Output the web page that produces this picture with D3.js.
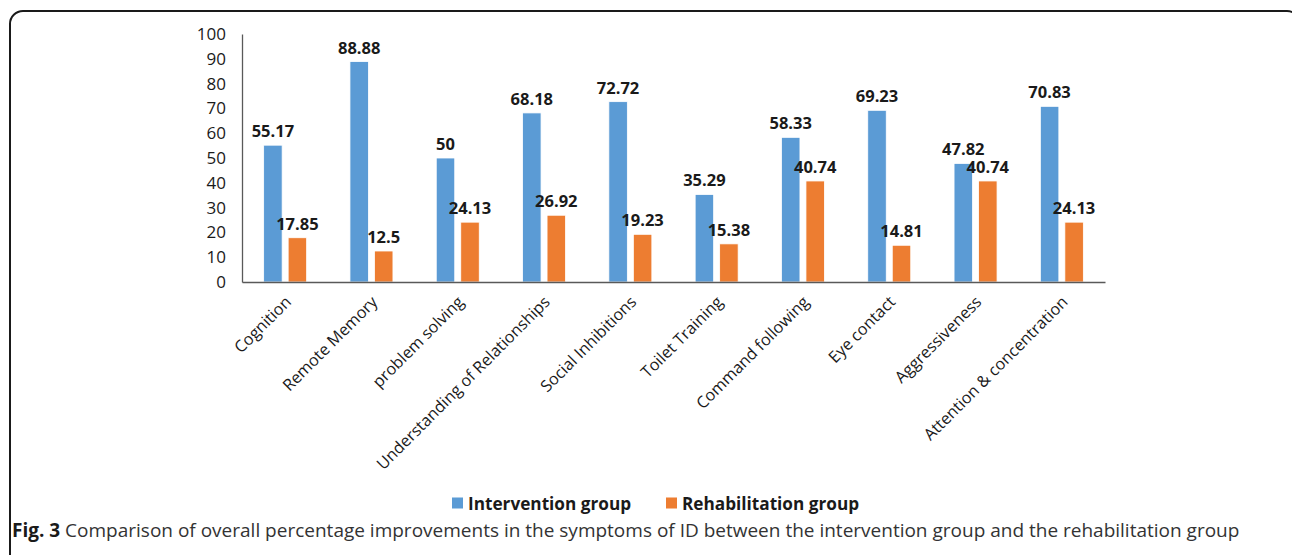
<!DOCTYPE html>
<html>
<head>
<meta charset="utf-8">
<script src="https://cdn.jsdelivr.net/npm/d3@7"></script>
<style>
  html, body { margin: 0; padding: 0; background: #fff; }
  svg { display: block; }
</style>
</head>
<body>
<svg id="chart" width="1292" height="555"></svg>
<script>
// Symptom categories and percentage improvement per group
const categories = [
  "Cognition", "Remote Memory", "problem solving", "Understanding of Relationships",
  "Social Inhibitions", "Toilet Training", "Command following", "Eye contact",
  "Aggressiveness", "Attention & concentration"
];
const interventionValues = [55.17, 88.88, 50, 68.18, 72.72, 35.29, 58.33, 69.23, 47.82, 70.83];
const rehabilitationValues = [17.85, 12.5, 24.13, 26.92, 19.23, 15.38, 40.74, 14.81, 40.74, 24.13];
const seriesNames = ["Intervention group", "Rehabilitation group"];
const yTicks = [0, 10, 20, 30, 40, 50, 60, 70, 80, 90, 100];
const captionLead = "Fig. 3";
const captionText = " Comparison of overall percentage improvements in the symptoms of ID between the intervention group and the rehabilitation group";

const colors = ["#5B9BD5", "#ED7D31"];
const svg = d3.select("#chart");

// Outer rounded frame
svg.append("rect")
  .attr("x", 10).attr("y", 11)
  .attr("width", 1290).attr("height", 600)
  .attr("rx", 13).attr("ry", 13)
  .attr("fill", "none").attr("stroke", "#1a1a1a").attr("stroke-width", 2);

const plot = { left: 242, right: 1105, top: 34, bottom: 282 };

const x = d3.scaleBand().domain(categories).range([plot.left, plot.right]).paddingInner(0).paddingOuter(0);
const y = d3.scaleLinear().domain([0, 100]).range([plot.bottom, plot.top]);

const barW = 18.5, barGap = 6;
const offsets = [-(barW + barGap) / 2, (barW + barGap) / 2];
const series = [interventionValues, rehabilitationValues];

// Y axis
const yAxis = svg.append("g").attr("transform", `translate(${plot.left},0)`)
  .call(d3.axisLeft(y).tickValues(yTicks).tickSize(0).tickPadding(16));
yAxis.select(".domain").attr("stroke", "#595959").attr("stroke-width", 1.3);
yAxis.selectAll("text")
  .attr("font-family", "Open Sans").attr("font-size", 17).attr("fill", "#1a1a1a");

// Bars and value labels
series.forEach((vals, si) => {
  const g = svg.append("g");
  g.selectAll("rect").data(vals).join("rect")
    .attr("x", (d, i) => x(categories[i]) + x.bandwidth() / 2 + offsets[si] - barW / 2)
    .attr("y", d => y(d))
    .attr("width", barW)
    .attr("height", d => y(0) - y(d))
    .attr("fill", colors[si])
    .attr("stroke", "#fff").attr("stroke-width", 0.8);
  g.selectAll("text").data(vals).join("text")
    .attr("x", (d, i) => x(categories[i]) + x.bandwidth() / 2 + offsets[si])
    .attr("y", d => y(d) - 8)
    .attr("text-anchor", "middle")
    .attr("font-family", "Open Sans").attr("font-weight", "bold").attr("font-size", 16.5)
    .attr("fill", "#1a1a1a")
    .text(d => d);
});

// X axis with rotated category labels
const xAxis = svg.append("g").attr("transform", `translate(0,${plot.bottom})`)
  .call(d3.axisBottom(x).tickSize(0).tickPadding(0));
xAxis.select(".domain").attr("stroke", "#595959").attr("stroke-width", 1.3);
xAxis.selectAll(".tick text")
  .attr("font-family", "Open Sans").attr("font-size", 16.2).attr("fill", "#1a1a1a")
  .attr("text-anchor", "end")
  .attr("dy", null)
  .attr("transform", "translate(7,21) rotate(-45)");

// Legend
const legend = svg.append("g").attr("transform", "translate(452,503)");
const legendX = [0, 214];
seriesNames.forEach((name, i) => {
  const item = legend.append("g").attr("transform", `translate(${legendX[i]},0)`);
  item.append("rect").attr("x", 0).attr("y", -5.5).attr("width", 11).attr("height", 11).attr("fill", colors[i]);
  item.append("text").attr("x", 16).attr("y", 6.5)
    .attr("font-family", "Open Sans").attr("font-weight", "bold").attr("font-size", 17.2)
    .attr("fill", "#1a1a1a").text(name);
});

// Figure caption
const cap = svg.append("text").attr("x", 12).attr("y", 537)
  .attr("font-family", "Open Sans").attr("font-size", 19).attr("fill", "#333");
cap.append("tspan").attr("font-weight", "bold").attr("fill", "#1a1a1a").text(captionLead);
cap.append("tspan").text(captionText);
</script>
</body>
</html>
